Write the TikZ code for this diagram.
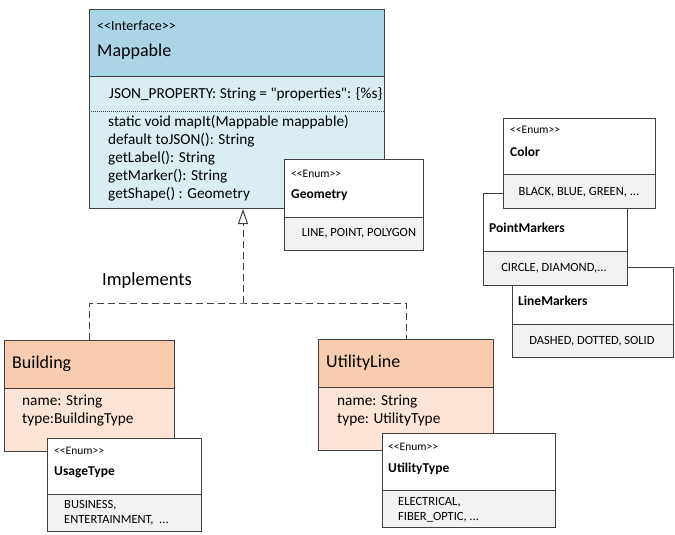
\documentclass[tikz,border=0pt]{standalone}
\usepackage{fontspec}
\setmainfont{Carlito}[Ligatures=TeXOff]
\usetikzlibrary{arrows.meta}
\definecolor{borda}{RGB}{64,64,64}
\definecolor{azulCab}{RGB}{170,213,228}
\definecolor{azulCorpo}{RGB}{218,237,243}
\definecolor{laranjaCab}{RGB}{248,204,174}
\definecolor{laranjaCorpo}{RGB}{252,229,214}
\definecolor{cinzaEnum}{RGB}{242,242,242}
\newcommand{\estereo}[1]{\textless\textless #1\textgreater\textgreater}
\begin{document}
\begin{tikzpicture}[x=1pt,y=-1pt]
\tikzset{
    compart/.style={draw=borda, line width=1pt, anchor=north west, inner sep=0pt},
    enumCab/.style={compart, fill=white},
    enumCorpo/.style={compart, fill=cinzaEnum},
    estereotipo/.style={anchor=west, inner sep=0pt, font=\fontsize{11.5}{13}\selectfont},
    estereotipoG/.style={anchor=west, inner sep=0pt, font=\fontsize{14}{16}\selectfont},
    nomeClasse/.style={anchor=west, inner sep=0pt, font=\fontsize{18}{21}\selectfont},
    nomeEnum/.style={anchor=west, inner sep=0pt, font=\fontsize{13.5}{16}\selectfont\bfseries},
    membros/.style={anchor=west, inner sep=0pt, align=left, font=\fontsize{15.3}{18}\selectfont},
    valores/.style={inner sep=0pt, align=left, font=\fontsize{12.5}{15}\selectfont},
    realiza/.style={draw=borda, line width=1pt, dash pattern=on 7pt off 4pt},
    divPontilhada/.style={draw=borda, line width=0.8pt, dash pattern=on 1pt off 1pt}
}
\useasboundingbox (0,0) rectangle (675,535);

% Interface Mappable
\node[compart, fill=azulCab,   minimum width=295pt, minimum height=67pt]  (mapH) at (89,9)  {};
\node[compart, fill=azulCorpo, minimum width=295pt, minimum height=132pt] (mapB) at (89,76) {};
\draw[divPontilhada] ([yshift=-35pt]mapB.north west) -- ([yshift=-35pt]mapB.north east);
\node[estereotipoG] (mapEst)  at (97,26) {\estereo{Interface}};
\node[nomeClasse]   (mapNome) at (97,52) {Mappable};
\node[membros] (mapAtr) at (109,94) {JSON\_PROPERTY: String = "properties": \{\%s\}};
\node[membros] (mapOps) at (108,158) {static void mapIt(Mappable mappable)\\
    default toJSON(): String\\ getLabel(): String\\ getMarker(): String\\ getShape() : Geometry};

% Enum Geometry
\node[enumCab,   minimum width=139pt, minimum height=58pt] (geoH) at (284,159) {};
\node[enumCorpo, minimum width=139pt, minimum height=33pt] (geoB) at (284,217) {};
\node[estereotipo] (geoEst)  at (291,174) {\estereo{Enum}};
\node[nomeEnum]    (geoNome) at (291,195) {Geometry};
\node[valores]     (geoVal)  at (359,233) {LINE, POINT, POLYGON};

% Enums a direita (empilhados)
\node[enumCab,   minimum width=161pt, minimum height=57pt] (lmkH) at (512,267) {};
\node[enumCorpo, minimum width=161pt, minimum height=33pt] (lmkB) at (512,324) {};
\node[nomeEnum] (lmkNome) at (518,301) {LineMarkers};
\node[valores]  (lmkVal)  at (592,341) {DASHED, DOTTED, SOLID};

\node[enumCab,   minimum width=144pt, minimum height=58pt] (pmkH) at (483,193) {};
\node[enumCorpo, minimum width=144pt, minimum height=34pt] (pmkB) at (483,251) {};
\node[nomeEnum] (pmkNome) at (489,228) {PointMarkers};
\node[valores]  (pmkVal)  at (554,268) {CIRCLE, DIAMOND,...};

\node[enumCab,   minimum width=152pt, minimum height=56pt] (corH) at (503,118) {};
\node[enumCorpo, minimum width=152pt, minimum height=34pt] (corB) at (503,174) {};
\node[estereotipo] (corEst)  at (510,130) {\estereo{Enum}};
\node[nomeEnum]    (corNome) at (510,152) {Color};
\node[valores]     (corVal)  at (579,192) {BLACK, BLUE, GREEN, ...};

% Classe Building
\node[compart, fill=laranjaCab,   minimum width=170pt, minimum height=48pt] (bldH) at (4,340) {};
\node[compart, fill=laranjaCorpo, minimum width=170pt, minimum height=63pt] (bldB) at (4,388) {};
\node[nomeClasse] (bldNome) at (12,364) {Building};
\node[membros]    (bldAtr)  at (22,411) {name: String\\ type:BuildingType};

\node[enumCab,   minimum width=154pt, minimum height=56pt] (usoH) at (47,438) {};
\node[enumCorpo, minimum width=154pt, minimum height=37pt] (usoB) at (47,494) {};
\node[estereotipo] (usoEst)  at (54,451) {\estereo{Enum}};
\node[nomeEnum]    (usoNome) at (54,472) {UsageType};
\node[valores, anchor=west] (usoVal) at (64,513) {BUSINESS,\\ ENTERTAINMENT,\ \ ...};

% Classe UtilityLine
\node[compart, fill=laranjaCab,   minimum width=175pt, minimum height=48pt] (utlH) at (318,339) {};
\node[compart, fill=laranjaCorpo, minimum width=175pt, minimum height=63pt] (utlB) at (318,387) {};
\node[nomeClasse] (utlNome) at (326,363) {UtilityLine};
\node[membros]    (utlAtr)  at (337,410) {name: String\\ type: UtilityType};

\node[enumCab,   minimum width=173pt, minimum height=57pt] (utyH) at (382,433) {};
\node[enumCorpo, minimum width=173pt, minimum height=37pt] (utyB) at (382,490) {};
\node[estereotipo] (utyEst)  at (388,447) {\estereo{Enum}};
\node[nomeEnum]    (utyNome) at (388,469) {UtilityType};
\node[valores, anchor=west] (utyVal) at (398,510) {ELECTRICAL,\\ FIBER\_OPTIC, ...};

% Realizacao (Implements)
\coordinate (juncao) at (243,303);
\draw[realiza] (bldH.north) |- (juncao) -| (utlH.north);
\draw[realiza, -{Triangle[open, width=10pt, length=15pt]}, fill=white] (juncao) -- (juncao |- mapB.south);
\node[anchor=west, inner sep=0pt, font=\fontsize{18.5}{21}\selectfont] (rotImpl) at (102,281) {Implements};
\end{tikzpicture}
\end{document}
